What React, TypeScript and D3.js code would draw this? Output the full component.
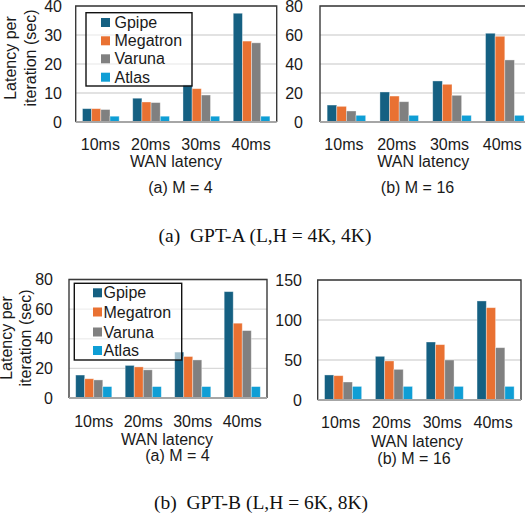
import React from "react";
import * as d3 from "d3";

const categories = ["10ms", "20ms", "30ms", "40ms"];
const seriesNames = ["Gpipe", "Megatron", "Varuna", "Atlas"];
const seriesColors = ["#156082", "#E97132", "#808080", "#0F9ED5"];

// GPT-A, M = 4
const aM4Gpipe = [4.6, 8.2, 12.8, 37.5];
const aM4Megatron = [4.6, 6.9, 11.5, 27.9];
const aM4Varuna = [4.3, 6.7, 9.3, 27.3];
const aM4Atlas = [2.0, 2.0, 2.0, 2.0];
const aM4Ticks = [0, 10, 20, 30, 40];

// GPT-A, M = 16
const aM16Gpipe = [11.7, 20.7, 28.3, 61.2];
const aM16Megatron = [10.8, 17.9, 26.0, 59.1];
const aM16Varuna = [7.6, 14.0, 18.4, 42.8];
const aM16Atlas = [4.6, 4.6, 4.6, 4.6];
const aM16Ticks = [0, 20, 40, 60, 80];

// GPT-B, M = 4
const bM4Gpipe = [15.5, 22.0, 31.0, 71.8];
const bM4Megatron = [13.0, 21.0, 28.0, 50.5];
const bM4Varuna = [12.2, 19.0, 25.7, 45.5];
const bM4Atlas = [7.7, 7.7, 7.7, 7.7];
const bM4Ticks = [0, 20, 40, 60, 80];

// GPT-B, M = 16
const bM16Gpipe = [31.3, 54.6, 72.5, 123.8];
const bM16Megatron = [30.4, 48.8, 69.2, 115.4];
const bM16Varuna = [22.5, 38.3, 50.0, 65.4];
const bM16Atlas = [17.0, 17.0, 17.0, 17.0];
const bM16Ticks = [0, 50, 100, 150];

const xTitle = "WAN latency";
const yTitle1 = "Latency per";
const yTitle2 = "iteration (sec)";
const captionA = "(a)  GPT-A (L,H = 4K, 4K)";
const captionB = "(b)  GPT-B (L,H = 6K, 8K)";

const SANS = "'Liberation Sans', Arial, sans-serif";
const SERIF = "'Liberation Serif', 'Times New Roman', serif";
const FS = 16;
const TXT = "#1a1a1a";

type Layout = {
  x0: number; x1: number; yT: number; yB: number;
  tickRight: number; catY: number; catDx: number;
  xtX: number; xtY: number; subX: number; subY: number;
  sub: string;
  yTitle?: { x1: number; x2: number; cy: number };
  legend?: { x: number; y: number; w: number; h: number; sx: number; tx: number; rows: number[]; sw: number };
};

function Panel({ L, values, ticks }: { L: Layout; values: number[][]; ticks: number[] }) {
  const x = d3.scaleBand<string>().domain(categories).range([L.x0, L.x1]).paddingInner(0.27).paddingOuter(0.135);
  const xs = d3.scaleBand<string>().domain(seriesNames).range([0, x.bandwidth()]);
  const y = d3.scaleLinear().domain([0, ticks[ticks.length - 1]]).range([L.yB, L.yT]);
  return (
    <g>
      {ticks.slice(1).map((t) => (
        <line key={"g" + t} x1={L.x0} x2={L.x1} y1={y(t)} y2={y(t)} stroke="#D9D9D9" strokeWidth={1.3} />
      ))}
      {categories.map((c, ci) =>
        seriesNames.map((s, si) => {
          const v = values[si][ci];
          return (
            <rect key={c + s} x={(x(c) as number) + (xs(s) as number)} y={y(v)} width={xs.bandwidth()}
              height={y(0) - y(v)} fill={seriesColors[si]} stroke="#ffffff" strokeOpacity={0.45} strokeWidth={0.8} />
          );
        })
      )}
      {L.legend && (
        <g>
          <rect x={L.legend.x} y={L.legend.y} width={L.legend.w} height={L.legend.h} fill="#ffffff" fillOpacity={0.6}
            stroke="#111" strokeWidth={1.4} />
          {seriesNames.map((s, i) => (
            <g key={"l" + s}>
              <rect x={L.legend!.sx} y={L.legend!.rows[i] - L.legend!.sw / 2} width={L.legend!.sw} height={L.legend!.sw} fill={seriesColors[i]} />
              <text x={L.legend!.tx} y={L.legend!.rows[i]} dy="0.35em" fontSize={FS} fontFamily={SANS} fill={TXT}>{s}</text>
            </g>
          ))}
        </g>
      )}
      <path d={`M${L.x0},${L.yB} V${L.yT} H${L.x1} V${L.yB}`} fill="none" stroke="#3a3a3a" strokeWidth={1.4} />
      <line x1={L.x0} x2={L.x1} y1={L.yB} y2={L.yB} stroke="#A6A6A6" strokeWidth={2} />
      {ticks.map((t) => (
        <text key={"t" + t} x={L.tickRight} y={y(t)} dy="0.35em" textAnchor="end" fontSize={FS} fontFamily={SANS} fill={TXT}>{t}</text>
      ))}
      {categories.map((c) => (
        <text key={"c" + c} x={(x(c) as number) + x.bandwidth() / 2 + L.catDx} y={L.catY} textAnchor="middle" fontSize={FS} fontFamily={SANS} fill={TXT}>{c}</text>
      ))}
      <text x={L.xtX} y={L.xtY} textAnchor="middle" fontSize={FS} fontFamily={SANS} fill={TXT}>{xTitle}</text>
      <text x={L.subX} y={L.subY} textAnchor="middle" fontSize={FS} fontFamily={SANS} fill={TXT}>{L.sub}</text>
      {L.yTitle && (
        <g>
          <text transform={`translate(${L.yTitle.x1},${L.yTitle.cy}) rotate(-90)`} textAnchor="middle" fontSize={FS} fontFamily={SANS} fill={TXT}>{yTitle1}</text>
          <text transform={`translate(${L.yTitle.x2},${L.yTitle.cy}) rotate(-90)`} textAnchor="middle" fontSize={FS} fontFamily={SANS} fill={TXT}>{yTitle2}</text>
        </g>
      )}
    </g>
  );
}

const L1: Layout = {
  x0: 75.7, x1: 276.7, yT: 6, yB: 122, tickRight: 62, catY: 149.5, catDx: -0.5,
  xtX: 176, xtY: 166.5, subX: 180.5, subY: 193, sub: "(a) M = 4",
  yTitle: { x1: 16, x2: 35.5, cy: 58 },
  legend: { x: 86, y: 12.7, w: 106, h: 73.3, sx: 101, tx: 114.5, rows: [22.5, 40.8, 58.8, 77.2], sw: 9 },
};
const L2: Layout = {
  x0: 320, x1: 531.2, yT: 6, yB: 122, tickRight: 303, catY: 149.5, catDx: -2.5,
  xtX: 423.3, xtY: 166.5, subX: 417.5, subY: 193, sub: "(b) M = 16",
};
const L3: Layout = {
  x0: 69, x1: 267, yT: 279.5, yB: 398, tickRight: 53, catY: 426.5, catDx: 0,
  xtX: 167, xtY: 444.5, subX: 177.5, subY: 461, sub: "(a) M = 4",
  yTitle: { x1: 12, x2: 31, cy: 338 },
  legend: { x: 74.3, y: 283.3, w: 107.4, h: 76.7, sx: 93, tx: 103.5, rows: [292.8, 312, 332, 350.5], sw: 9 },
};
const L4: Layout = {
  x0: 317.7, x1: 521, yT: 280, yB: 400, tickRight: 302, catY: 427.5, catDx: -2.5,
  xtX: 417, xtY: 447, subX: 414, subY: 464, sub: "(b) M = 16",
};

export default function App() {
  return (
    <svg width={525} height={521} style={{ position: "absolute", left: 0, top: 0, background: "#fff" }}>
      <rect x={0} y={0} width={525} height={521} fill="#fff" />
      <Panel L={L1} values={[aM4Gpipe, aM4Megatron, aM4Varuna, aM4Atlas]} ticks={aM4Ticks} />
      <Panel L={L2} values={[aM16Gpipe, aM16Megatron, aM16Varuna, aM16Atlas]} ticks={aM16Ticks} />
      <Panel L={L3} values={[bM4Gpipe, bM4Megatron, bM4Varuna, bM4Atlas]} ticks={bM4Ticks} />
      <Panel L={L4} values={[bM16Gpipe, bM16Megatron, bM16Varuna, bM16Atlas]} ticks={bM16Ticks} />
      <text x={265} y={242} textAnchor="middle" fontSize={19.5} fontFamily={SERIF} fill="#111" style={{ whiteSpace: "pre" }}>{captionA}</text>
      <text x={261} y={509} textAnchor="middle" fontSize={19.5} fontFamily={SERIF} fill="#111" style={{ whiteSpace: "pre" }}>{captionB}</text>
    </svg>
  );
}
